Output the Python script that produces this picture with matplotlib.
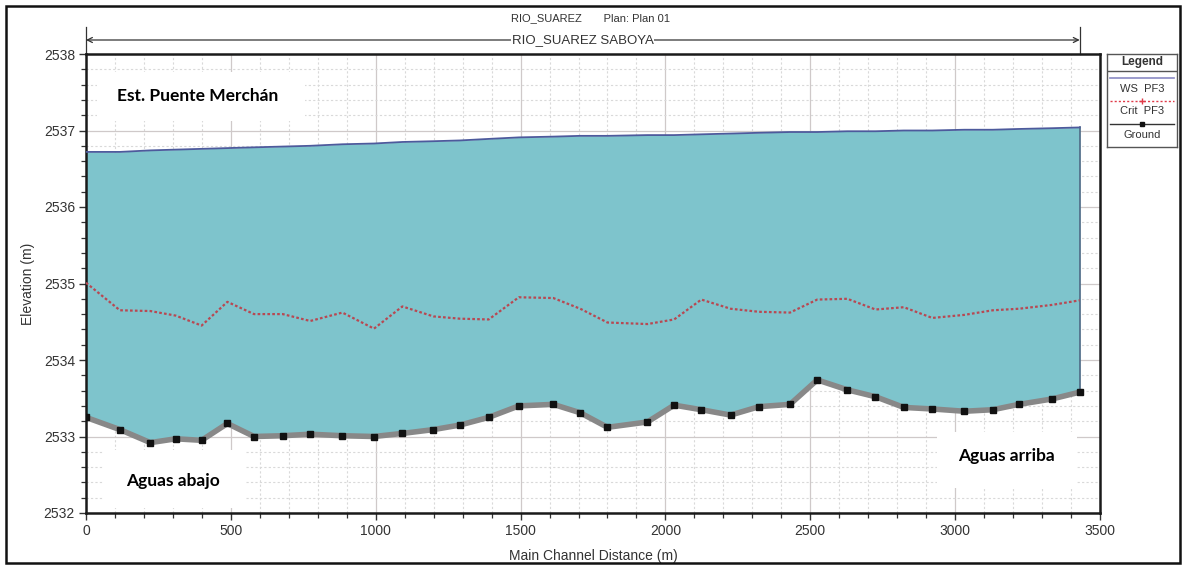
import matplotlib
matplotlib.use("Agg")
import matplotlib.pyplot as plt
from matplotlib.lines import Line2D
from matplotlib.patches import Rectangle
from matplotlib.ticker import MultipleLocator
import matplotlib.transforms as mtransforms

# ---- profile data (HEC-RAS, Rio Suarez reach Saboya) ----
stations = [0, 117, 222, 310, 399, 488, 580, 679, 774, 885, 994, 1092, 1199,
            1291, 1390, 1494, 1613, 1706, 1800, 1938, 2030, 2124, 2225, 2323,
            2430, 2524, 2628, 2725, 2823, 2921, 3032, 3130, 3220, 3334, 3430]
ground = [2533.25, 2533.09, 2532.92, 2532.97, 2532.95, 2533.17, 2533.00,
          2533.01, 2533.03, 2533.01, 2533.00, 2533.04, 2533.09, 2533.15,
          2533.25, 2533.40, 2533.42, 2533.31, 2533.12, 2533.19, 2533.41,
          2533.35, 2533.28, 2533.39, 2533.42, 2533.74, 2533.61, 2533.52,
          2533.38, 2533.36, 2533.33, 2533.35, 2533.42, 2533.49, 2533.58]
ws_pf3 = [2536.72, 2536.72, 2536.74, 2536.75, 2536.76, 2536.77, 2536.78,
          2536.79, 2536.80, 2536.82, 2536.83, 2536.85, 2536.86, 2536.87,
          2536.89, 2536.91, 2536.92, 2536.93, 2536.93, 2536.94, 2536.94,
          2536.95, 2536.96, 2536.97, 2536.98, 2536.98, 2536.99, 2536.99,
          2537.00, 2537.00, 2537.01, 2537.01, 2537.02, 2537.03, 2537.04]
crit_pf3 = [2535.01, 2534.65, 2534.64, 2534.58, 2534.45, 2534.76, 2534.60,
            2534.60, 2534.51, 2534.62, 2534.41, 2534.70, 2534.57, 2534.54,
            2534.53, 2534.82, 2534.81, 2534.67, 2534.49, 2534.47, 2534.53,
            2534.79, 2534.67, 2534.63, 2534.62, 2534.79, 2534.80, 2534.66,
            2534.69, 2534.55, 2534.59, 2534.65, 2534.67, 2534.72, 2534.78]

x_ticks = [0, 500, 1000, 1500, 2000, 2500, 3000, 3500]
y_ticks = [2532, 2533, 2534, 2535, 2536, 2537, 2538]

W, H = 1184, 567
SANS = ["Liberation Sans", "DejaVu Sans"]
BOLD = ["Lato", "DejaVu Sans"]
plt.rcParams["font.family"] = SANS

fig = plt.figure(figsize=(W / 100, H / 100), dpi=100)


def fbox(x0, y0, x1, y1):
    """pixel box (top-left origin) -> figure fraction [l, b, w, h]"""
    return [x0 / W, 1 - y1 / H, (x1 - x0) / W, (y1 - y0) / H]


ax = fig.add_axes(fbox(86, 54, 1100, 513))
ax.set_xlim(x_ticks[0], x_ticks[-1])
ax.set_ylim(y_ticks[0], y_ticks[-1])
ax.set_xticks(x_ticks)
ax.set_yticks(y_ticks)
ax.xaxis.set_minor_locator(MultipleLocator(100))
ax.yaxis.set_minor_locator(MultipleLocator(0.2))

ax.grid(which="major", color="#cfc9c9", lw=0.9, ls="-", zorder=0)
ax.grid(which="minor", color="#d9d9d9", lw=0.8, ls=(0, (2, 2)), zorder=0)
ax.set_axisbelow(True)

for s in ax.spines.values():
    s.set_linewidth(1.8)
    s.set_color("#1a1a1a")
ax.tick_params(which="major", direction="out", length=5, width=1.0,
               colors="#333333", labelsize=10, pad=3)
ax.tick_params(which="minor", direction="out", length=3.5, width=0.9,
               colors="#333333")

# water body between ground and water surface
ax.fill_between(stations, ground, ws_pf3, color="#7ec4cc", lw=0, zorder=1)
ax.plot([stations[-1], stations[-1]], [ground[-1], ws_pf3[-1]],
        color="#4f6a86", lw=1.2, zorder=2)
ax.plot(stations, ws_pf3, color="#4d5a9c", lw=1.3, zorder=3)
ax.plot(stations, crit_pf3, color="#b84852", lw=1.6,
        ls=(0, (1.2, 1.0)), zorder=3)
ax.plot(stations, ground, color="#888888", lw=4.0, zorder=4,
        solid_joinstyle="round")
ax.plot(stations, ground, ls="none", marker="s", ms=3.8, color="#111111",
        zorder=5)

ax.set_xlabel("Main Channel Distance (m)", fontsize=10, color="#333333")
ax.set_ylabel("Elevation (m)", fontsize=10, color="#333333")
ax.xaxis.set_label_coords(0.5, -0.078)
ax.yaxis.set_label_coords(-0.05, 0.5)

# reach indicator above the plot
blend = mtransforms.blended_transform_factory(ax.transData, fig.transFigure)
y_arrow = 1 - 40 / H
ax.annotate("", xy=(stations[-1], y_arrow), xytext=(stations[0], y_arrow),
            xycoords=blend, textcoords=blend,
            arrowprops=dict(arrowstyle="<->", lw=0.9, color="#333333",
                            shrinkA=0, shrinkB=0, mutation_scale=9),
            annotation_clip=False)
for xs in (stations[0], stations[-1]):
    ax.add_line(Line2D([xs, xs], [1 - 27 / H, 1 - 54 / H], transform=blend,
                       color="#333333", lw=0.9, clip_on=False))
ax.text((stations[0] + stations[-1]) / 2, y_arrow, "RIO_SUAREZ SABOYA",
        transform=blend, ha="center", va="center", fontsize=9.5,
        color="#333333",
        bbox=dict(facecolor="white", edgecolor="none", pad=0.5))

fig.text(0.499, 1 - 18 / H, "RIO_SUAREZ       Plan: Plan 01", ha="center",
         va="center", fontsize=8, color="#333333")

# location labels on white boxes
labels = [((97, 72, 305, 121), "Est. Puente Merchán", (198, 96)),
          ((104, 450, 246, 508), "Aguas abajo", (173, 481)),
          ((937, 432, 1077, 488), "Aguas arriba", (1006, 456))]
for (x0, y0, x1, y1), txt, (tx, ty) in labels:
    l, b, w, h = fbox(x0, y0, x1, y1)
    fig.patches.append(Rectangle((l, b), w, h, transform=fig.transFigure,
                                 facecolor="white", edgecolor="none",
                                 zorder=10))
    fig.text(tx / W, 1 - ty / H, txt, ha="center", va="center",
             fontsize=12.5, fontweight="bold", family=BOLD, color="#000000",
             zorder=11)

# legend panel
lg = fig.add_axes(fbox(1107, 54, 1177, 147))
lg.set_xlim(0, 70)
lg.set_ylim(93, 0)
lg.set_xticks([])
lg.set_yticks([])
for s in lg.spines.values():
    s.set_linewidth(1.0)
    s.set_color("#555555")
lg.text(35, 8, "Legend", ha="center", va="center", fontsize=8.5,
        fontweight="bold", color="#333333")
lg.plot([0, 70], [16.5, 16.5], color="#555555", lw=1.0)
lg.plot([3, 67], [24, 24], color="#8a8ac4", lw=1.2)
lg.text(35, 35, "WS  PF3", ha="center", va="center", fontsize=8,
        color="#333333")
lg.plot([3, 67], [46.5, 46.5], color="#e03a48", lw=1.0, ls=(0, (1.5, 1.5)))
lg.plot([35], [46.5], marker="+", ms=4, color="#e03a48", mew=1.0)
lg.text(35, 57, "Crit  PF3", ha="center", va="center", fontsize=8,
        color="#333333")
lg.plot([3, 67], [70, 70], color="#333333", lw=1.0)
lg.plot([35], [70], marker="s", ms=3.5, color="#111111")
lg.text(35, 81, "Ground", ha="center", va="center", fontsize=8,
        color="#333333")

# outer frame
l, b, w, h = fbox(6, 6, 1180, 563)
fig.patches.append(Rectangle((l, b), w, h, transform=fig.transFigure,
                             facecolor="none", edgecolor="#111111", lw=1.8,
                             zorder=20))

fig.savefig("out.png", dpi=100, facecolor="white")
